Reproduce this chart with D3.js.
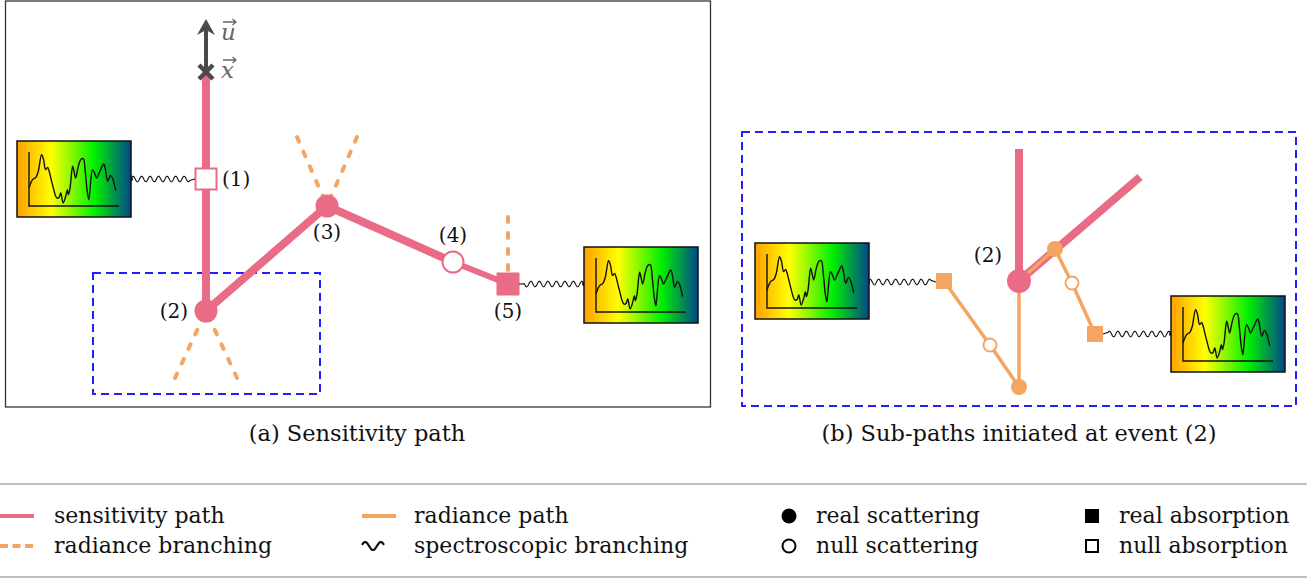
<!DOCTYPE html>
<html>
<head>
<meta charset="utf-8">
<script src="https://cdn.jsdelivr.net/npm/d3@7"></script>
<style>
body { margin: 0; background: #fff; }
svg { display: block; }
text { font-family: "DejaVu Serif", serif; fill: #111; }
</style>
</head>
<body>
<svg id="fig" width="1307" height="580"></svg>
<script>
// Init parameters
var fig = [],
    util = [];
fig.width = 1307;
fig.height = 580;

// Diagram data (layout units)
// Panel (a) sensitivity path: start point then events (1)..(5)
var pathAX = [206, 206, 206, 327, 453, 508];
var pathAY = [76, 179, 311, 206, 262, 284];
var pathAWidth = [8, 8, 8, 8, 6];
var eventLabelsA = ["(1)", "(2)", "(3)", "(4)", "(5)"];
var eventTypesA = ["nullAbs", "realScat", "realScat", "nullScat", "realAbs"];
var eventLabelDX = [16, -18, 0, 0, 0];
var eventLabelDY = [0, 0, 26, -27, 27];
var eventLabelAnchor = ["start", "end", "middle", "middle", "middle"];

// Radiance branching (dashed) : event index, outer end
var branchFrom = [2, 2, 1, 1, 4];
var branchToX = [297, 357, 175, 237, 508];
var branchToY = [137, 137, 378, 378, 217];

// Direction vector u at x
var startX = 206, startY = 72, arrowTipY = 19;
var vecLetters = ["u", "x"];
var vecLetterY = [40, 78];

// Panel (b) sub-paths initiated at event (2)
var subPinkX = [[1019, 1019], [1019, 1140]];
var subPinkY = [[149, 281], [281, 177]];
var subRadX = [[1019, 1055, 1072, 1095], [1019, 1019, 990, 944]];
var subRadY = [[281, 249, 283, 334], [281, 387, 345, 281]];
var subRadTypes = [["", "realScat", "nullScat", "realAbs"], ["", "realScat", "nullScat", "realAbs"]];

// Spectrum boxes: top-left corner, and wave to event
var specBoxX = [17, 584, 755, 1171];
var specBoxY = [141, 247, 243, 296];
var waveBoxEdge = [131, 584, 868, 1171];
var waveNodeEdge = [195, 519, 936, 1103];
var waveY = [179, 284, 282, 334];

// Spectrum curve (fraction of the axes)
var specX = [0, 0.040, 0.077, 0.103, 0.140, 0.162, 0.184, 0.206, 0.224, 0.261, 0.309, 0.335, 0.353, 0.379, 0.408, 0.426, 0.438, 0.456, 0.485, 0.504, 0.518, 0.548, 0.574, 0.603, 0.625, 0.647, 0.665, 0.676, 0.706, 0.728, 0.750, 0.787, 0.831, 0.846, 0.875, 0.904, 0.926, 0.963];
var specY = [0.333, 0.488, 0.531, 0.642, 0.951, 0.858, 0.673, 0.716, 0.642, 0.395, 0.148, 0.160, 0.241, 0.056, 0.179, 0.302, 0.210, 0.333, 0.735, 0.611, 0.519, 0.735, 0.858, 0.877, 0.642, 0.272, 0.117, 0.272, 0.673, 0.611, 0.519, 0.642, 0.778, 0.704, 0.457, 0.568, 0.519, 0.284];

// Captions and legend
var captions = ["(a) Sensitivity path", "(b) Sub-paths initiated at event (2)"];
var captionX = [357, 1019];
var legendLabels = ["sensitivity path", "radiance branching", "radiance path", "spectroscopic branching", "real scattering", "null scattering", "real absorption", "null absorption"];
var legendSymbols = ["sensLine", "radDash", "radLine", "wave", "realScat", "nullScat", "realAbs", "nullAbs"];
var legendColX = [0, 0, 362, 362, 789, 789, 1092, 1092];
var legendTextX = [54, 54, 414, 414, 816, 816, 1119, 1119];
var legendRowY = [516, 546, 516, 546, 516, 546, 516, 546];

// Colours
var pink = "#ea6b86",
    orange = "#f4a562",
    blue = "#1f1fff",
    darkGray = "#4a4a4a";

fig.init = () => {
	let svg = d3.select("#fig");
	fig.x = d3.scaleLinear().domain([0, fig.width]).range([0, fig.width]);
	fig.y = d3.scaleLinear().domain([0, fig.height]).range([0, fig.height]);

	let defs = svg.append("defs");
	let grad = defs.append("linearGradient").attr("id", "specGrad");
	[["0", "#ffa000"], ["0.3", "#ffff00"], ["0.68", "#00f000"], ["1", "#00468c"]].forEach(s => {
		grad.append("stop").attr("offset", s[0]).attr("stop-color", s[1]);
	});

	fig.drawPanelA(svg);
	fig.drawPanelB(svg);
	fig.drawSpectra(svg);
	fig.drawCaptions(svg);
	fig.drawLegend(svg);
}

fig.drawPanelA = (svg) => {
	let x = fig.x, y = fig.y;
	let g = svg.append("g");

	// Frame
	g.append("rect")
		.attr("x", x(5.5)).attr("y", y(1))
		.attr("width", x(710.5) - x(5.5)).attr("height", y(407) - y(1))
		.attr("fill", "none").attr("stroke", "#333").attr("stroke-width", 1.3);

	// Blue dashed zoom region
	g.append("rect")
		.attr("x", x(93)).attr("y", y(273))
		.attr("width", x(320) - x(93)).attr("height", y(394) - y(273))
		.attr("fill", "none").attr("stroke", blue).attr("stroke-width", 2)
		.attr("stroke-dasharray", "8,5");

	// Radiance branching
	branchFrom.forEach((e, i) => {
		g.append("line")
			.attr("x1", x(branchToX[i])).attr("y1", y(branchToY[i]))
			.attr("x2", x(pathAX[e + 1])).attr("y2", y(pathAY[e + 1]))
			.attr("stroke", orange).attr("stroke-width", 4)
			.attr("stroke-linecap", "round")
			.attr("stroke-dasharray", "5,11");
	});

	// Sensitivity path segments
	for (let i = 0; i < pathAX.length - 1; i++) {
		g.append("line")
			.attr("x1", x(pathAX[i])).attr("y1", y(pathAY[i]))
			.attr("x2", x(pathAX[i + 1])).attr("y2", y(pathAY[i + 1]))
			.attr("stroke", pink).attr("stroke-width", pathAWidth[i])
			.attr("stroke-linecap", "round");
	}

	// Direction arrow and starting cross
	g.append("line")
		.attr("x1", x(startX)).attr("y1", y(startY))
		.attr("x2", x(startX)).attr("y2", y(arrowTipY + 8))
		.attr("stroke", darkGray).attr("stroke-width", 4);
	g.append("path")
		.attr("d", "M" + x(startX) + "," + y(arrowTipY) +
			"L" + x(startX + 9) + "," + y(arrowTipY + 16) +
			"L" + x(startX) + "," + y(arrowTipY + 11) +
			"L" + x(startX - 9) + "," + y(arrowTipY + 16) + "Z")
		.attr("fill", darkGray);
	[[-1, -1], [-1, 1]].forEach(d => {
		g.append("line")
			.attr("x1", x(startX - 7)).attr("y1", y(startY + 7 * d[1]))
			.attr("x2", x(startX + 7)).attr("y2", y(startY - 7 * d[1]))
			.attr("stroke", darkGray).attr("stroke-width", 4.5);
	});
	vecLetters.forEach((l, i) => util.vecLabel(g, l, x(221), y(vecLetterY[i])));

	// Events
	eventTypesA.forEach((t, i) => {
		util.marker(g, t, x(pathAX[i + 1]), y(pathAY[i + 1]), pink, 23, 11.5);
		g.append("text")
			.attr("x", x(pathAX[i + 1] + eventLabelDX[i]))
			.attr("y", y(pathAY[i + 1] + eventLabelDY[i]))
			.attr("dy", "0.36em")
			.attr("text-anchor", eventLabelAnchor[i])
			.style("font-size", "20px")
			.text(eventLabelsA[i]);
	});
}

fig.drawPanelB = (svg) => {
	let x = fig.x, y = fig.y;
	let g = svg.append("g");

	g.append("rect")
		.attr("x", x(742)).attr("y", y(132))
		.attr("width", x(1296) - x(742)).attr("height", y(406) - y(132))
		.attr("fill", "none").attr("stroke", blue).attr("stroke-width", 2)
		.attr("stroke-dasharray", "8,5");

	let line = d3.line().x(d => x(d[0])).y(d => y(d[1]));

	subPinkX.forEach((xs, i) => {
		g.append("path")
			.attr("d", line(d3.zip(xs, subPinkY[i])))
			.attr("fill", "none").attr("stroke", pink).attr("stroke-width", 8);
	});
	subRadX.forEach((xs, i) => {
		g.append("path")
			.attr("d", line(d3.zip(xs, subRadY[i])))
			.attr("fill", "none").attr("stroke", orange).attr("stroke-width", 3.5)
			.attr("stroke-linejoin", "round");
	});

	util.marker(g, "realScat", x(subPinkX[0][1]), y(subPinkY[0][1]), pink, 24, 12);
	g.append("text")
		.attr("x", x(988)).attr("y", y(255))
		.attr("dy", "0.36em").attr("text-anchor", "middle")
		.style("font-size", "20px")
		.text("(2)");

	subRadTypes.forEach((types, i) => {
		types.forEach((t, j) => {
			if (t != "")
				util.marker(g, t, x(subRadX[i][j]), y(subRadY[i][j]), orange, 16, t == "nullScat" ? 7.5 : 8);
		});
	});
}

fig.drawSpectra = (svg) => {
	let x = fig.x, y = fig.y;
	let bw = 114, bh = 76;

	specBoxX.forEach((bx, i) => {
		let g = svg.append("g");
		let by = specBoxY[i];

		// Wave from box to event
		g.append("path")
			.attr("d", util.wavePath(waveBoxEdge[i], waveNodeEdge[i], waveY[i], 2.8, 8.5))
			.attr("fill", "none").attr("stroke", "#111").attr("stroke-width", 1.1);
		g.append("circle")
			.attr("cx", x(waveBoxEdge[i])).attr("cy", y(waveY[i])).attr("r", 2)
			.attr("fill", "#111");

		g.append("rect")
			.attr("x", x(bx)).attr("y", y(by))
			.attr("width", x(bx + bw) - x(bx)).attr("height", y(by + bh) - y(by))
			.attr("fill", "url(#specGrad)").attr("stroke", "#111").attr("stroke-width", 1.5);

		// Small axes inside the box
		let sx = d3.scaleLinear().domain([0, 1]).range([x(bx + 12), x(bx + 102)]);
		let sy = d3.scaleLinear().domain([0, 1]).range([y(by + 65), y(by + 11)]);
		g.append("path")
			.attr("d", "M" + sx(0) + "," + sy(1) + "V" + sy(0) + "H" + sx(1))
			.attr("fill", "none").attr("stroke", "#111").attr("stroke-width", 1.4);
		g.append("path")
			.attr("d", d3.line().x(d => sx(d[0])).y(d => sy(d[1])).curve(d3.curveCatmullRom)(d3.zip(specX, specY)))
			.attr("fill", "none").attr("stroke", "#111").attr("stroke-width", 1.4);
	});
}

fig.drawCaptions = (svg) => {
	captions.forEach((c, i) => {
		svg.append("text")
			.attr("x", fig.x(captionX[i])).attr("y", fig.y(433))
			.attr("dy", "0.36em").attr("text-anchor", "middle")
			.style("font-size", "22.5px")
			.text(c);
	});
}

fig.drawLegend = (svg) => {
	let x = fig.x, y = fig.y;
	let g = svg.append("g");

	[484, 577].forEach(v => {
		g.append("line")
			.attr("x1", 0).attr("x2", fig.width)
			.attr("y1", y(v)).attr("y2", y(v))
			.attr("stroke", "#aaa").attr("stroke-width", 1.5);
	});

	legendSymbols.forEach((s, i) => {
		let cx = x(legendColX[i]), cy = y(legendRowY[i]);
		if (s == "sensLine" || s == "radLine" || s == "radDash") {
			g.append("line")
				.attr("x1", cx).attr("x2", cx + 34)
				.attr("y1", cy).attr("y2", cy)
				.attr("stroke", s == "sensLine" ? pink : orange)
				.attr("stroke-width", 4)
				.attr("stroke-dasharray", s == "radDash" ? "8,4.5" : null);
		}
		else if (s == "wave") {
			let pts = d3.range(0, 22.1, 0.5).map(t => [cx + t, cy - 4 * Math.sin(0.1 * Math.PI + t / 22 * 2.8 * Math.PI)]);
			g.append("path")
				.attr("d", d3.line()(pts))
				.attr("fill", "none").attr("stroke", "#111").attr("stroke-width", 2.2);
		}
		else {
			util.marker(g, s, cx, cy, "#000", 14, 7.5);
		}
		g.append("text")
			.attr("x", x(legendTextX[i])).attr("y", cy)
			.attr("dy", "0.3em")
			.style("font-size", "22px")
			.text(legendLabels[i]);
	});
}

/********* Start Utility Functions *********/
util.marker = (g, type, cx, cy, color, side, r) => {
	if (type == "realScat" || type == "nullScat") {
		let filled = (type == "realScat");
		g.append("circle")
			.attr("cx", cx).attr("cy", cy)
			.attr("r", filled ? r : r - 1)
			.attr("fill", filled ? color : "#fff")
			.attr("stroke", filled ? "none" : color)
			.attr("stroke-width", 2);
	}
	else {
		let filled = (type == "realAbs");
		let s = filled ? side : side - 2;
		g.append("rect")
			.attr("x", cx - s / 2).attr("y", cy - s / 2)
			.attr("width", s).attr("height", s)
			.attr("fill", filled ? color : "#fff")
			.attr("stroke", filled ? "none" : color)
			.attr("stroke-width", 2);
	}
}

// Italic letter with a small vector arrow drawn above it
util.vecLabel = (g, letter, lx, ly) => {
	g.append("text")
		.attr("x", lx).attr("y", ly)
		.style("font-size", "23px").style("font-style", "italic").style("fill", "#666")
		.text(letter);
	let ay = ly - 18, ax0 = lx + 2, ax1 = lx + 15;
	g.append("path")
		.attr("d", "M" + ax0 + "," + ay + "H" + ax1 + "M" + (ax1 - 3.5) + "," + (ay - 3) + "L" + ax1 + "," + ay + "L" + (ax1 - 3.5) + "," + (ay + 3))
		.attr("fill", "none").attr("stroke", "#666").attr("stroke-width", 1.3);
}

// Horizontal snake from the box edge toward the event, straight tail at the event
util.wavePath = (boxEdge, nodeEdge, yy, amp, wl) => {
	let dir = nodeEdge > boxEdge ? 1 : -1;
	let len = Math.abs(nodeEdge - boxEdge) - 5;
	let pts = d3.range(0, len, 0.4).map(t => [fig.x(boxEdge + dir * t), fig.y(yy - amp * Math.sin(2 * Math.PI * t / wl))]);
	pts.push([fig.x(nodeEdge), fig.y(yy)]);
	return d3.line()(pts);
}
/********** End Utility Functions **********/

fig.init();
</script>
</body>
</html>
